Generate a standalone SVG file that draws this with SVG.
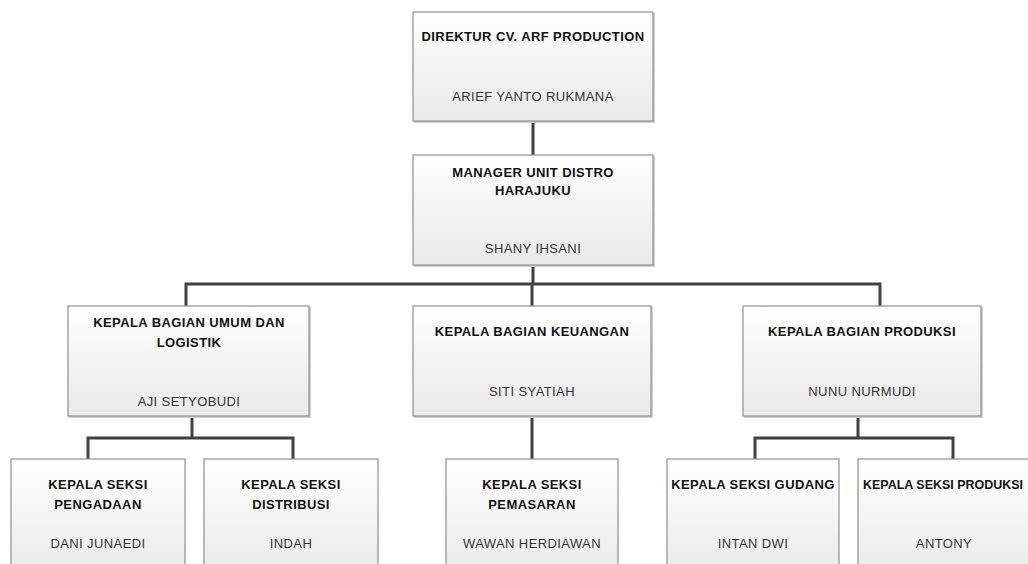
<svg xmlns="http://www.w3.org/2000/svg" width="1028" height="564" viewBox="0 0 1028 564">
<defs>
<linearGradient id="g" x1="0" y1="0" x2="0" y2="1">
<stop offset="0" stop-color="#ffffff"/>
<stop offset="1" stop-color="#e9e9e9"/>
</linearGradient>
<style>
.box{fill:url(#g);stroke:#8f8f8f;stroke-width:1.2}
.sh{fill:#d0d0d0}
.t{font-family:"Liberation Sans",Arial,sans-serif;font-size:13px;font-weight:bold;fill:#111111;text-anchor:middle;letter-spacing:0.4px}
.n{font-family:"Liberation Sans",Arial,sans-serif;font-size:13px;fill:#333333;text-anchor:middle;letter-spacing:0.4px}
.c{fill:none;stroke:#404040;stroke-width:3}
</style>
</defs>
<rect width="1028" height="564" fill="#ffffff"/>
<g id="connectors">
<path class="c" d="M533 121V155"/>
<path class="c" d="M533 265V284"/>
<path class="c" d="M186 306V284H880V306"/>
<path class="c" d="M532 284V306"/>
<path class="c" d="M192 416V438"/>
<path class="c" d="M88 460V438H293V460"/>
<path class="c" d="M532 416V459"/>
<path class="c" d="M858 416V438"/>
<path class="c" d="M755 460V438H953V460"/>
</g>
<g id="direktur">
<rect class="sh" x="414" y="13" width="241" height="110"/>
<rect class="box" x="413" y="12" width="240" height="109"/>
<text class="t" x="533" y="41">DIREKTUR CV. ARF PRODUCTION</text>
<text class="n" x="533" y="101">ARIEF YANTO RUKMANA</text>
</g>
<g id="manager">
<rect class="sh" x="414" y="156" width="241" height="111"/>
<rect class="box" x="413" y="155" width="240" height="110"/>
<text class="t" x="533" y="177">MANAGER UNIT DISTRO</text>
<text class="t" x="533" y="195">HARAJUKU</text>
<text class="n" x="533" y="253">SHANY IHSANI</text>
</g>
<g id="umum">
<rect class="sh" x="69" y="307" width="242" height="111"/>
<rect class="box" x="68" y="306" width="241" height="110"/>
<text class="t" x="189" y="327">KEPALA BAGIAN UMUM DAN</text>
<text class="t" x="189" y="347">LOGISTIK</text>
<text class="n" x="189" y="406">AJI SETYOBUDI</text>
</g>
<g id="keuangan">
<rect class="sh" x="414" y="307" width="239" height="111"/>
<rect class="box" x="413" y="306" width="238" height="110"/>
<text class="t" x="532" y="336">KEPALA BAGIAN KEUANGAN</text>
<text class="n" x="532" y="396">SITI SYATIAH</text>
</g>
<g id="produksi">
<rect class="sh" x="744" y="307" width="239" height="111"/>
<rect class="box" x="743" y="306" width="238" height="110"/>
<text class="t" x="862" y="336">KEPALA BAGIAN PRODUKSI</text>
<text class="n" x="862" y="396">NUNU NURMUDI</text>
</g>
<g id="pengadaan">
<rect class="box" x="11" y="459" width="174" height="120"/>
<text class="t" x="98" y="489">KEPALA SEKSI</text>
<text class="t" x="98" y="509">PENGADAAN</text>
<text class="n" x="98" y="548">DANI JUNAEDI</text>
</g>
<g id="distribusi">
<rect class="box" x="204" y="459" width="174" height="120"/>
<text class="t" x="291" y="489">KEPALA SEKSI</text>
<text class="t" x="291" y="509">DISTRIBUSI</text>
<text class="n" x="291" y="548">INDAH</text>
</g>
<g id="pemasaran">
<rect class="box" x="446" y="459" width="172" height="120"/>
<text class="t" x="532" y="489">KEPALA SEKSI</text>
<text class="t" x="532" y="509">PEMASARAN</text>
<text class="n" x="532" y="548">WAWAN HERDIAWAN</text>
</g>
<g id="gudang">
<rect class="box" x="667" y="459" width="172" height="120"/>
<text class="t" x="753" y="489">KEPALA SEKSI GUDANG</text>
<text class="n" x="753" y="548">INTAN DWI</text>
</g>
<g id="seksi-produksi">
<rect class="box" x="858" y="459" width="180" height="120"/>
<text class="t" x="863" y="489" style="text-anchor:start;letter-spacing:0" textLength="160" lengthAdjust="spacingAndGlyphs">KEPALA SEKSI PRODUKSI</text>
<text class="n" x="944" y="548">ANTONY</text>
</g>
</svg>
